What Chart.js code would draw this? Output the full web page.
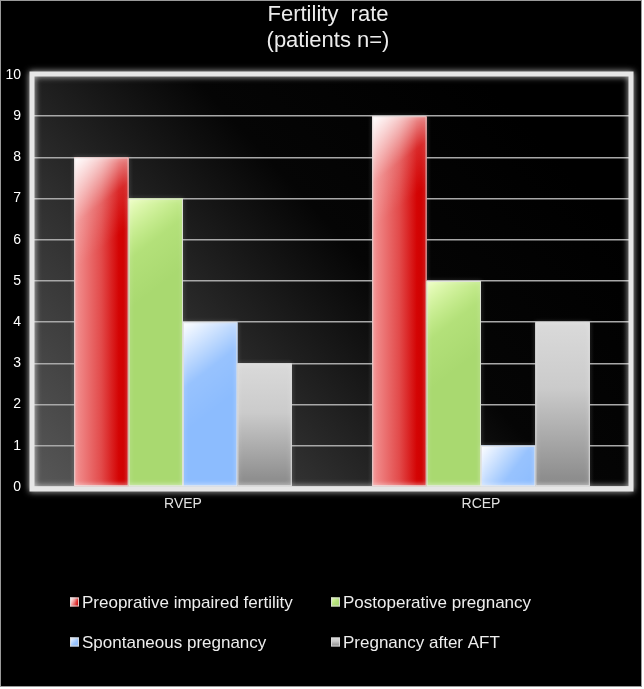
<!DOCTYPE html>
<html>
<head>
<meta charset="utf-8">
<script src="https://cdn.jsdelivr.net/npm/chart.js@4.4.1/dist/chart.umd.min.js"></script>
<style>
  html, body { margin: 0; padding: 0; background: #ffffff; }
  #wrap { position: relative; width: 644px; height: 689px; }
  canvas { display: block; }
</style>
</head>
<body>
<div id="wrap"><canvas id="c" width="644" height="689"></canvas></div>
<script>
// ---- data ----
const titleLines = ['Fertility  rate', '(patients n=)'];
const categories = ['RVEP', 'RCEP'];
const seriesNames = ['Preoprative impaired fertility', 'Postoperative pregnancy', 'Spontaneous pregnancy', 'Pregnancy after AFT'];
const preoperativeImpaired = [8, 9];
const postoperativePregnancy = [7, 5];
const spontaneousPregnancy = [4, 1];
const pregnancyAfterAFT = [3, 4];
const yTicks = [0, 1, 2, 3, 4, 5, 6, 7, 8, 9, 10];

// ---- styles ----
const FONT = '"Liberation Sans", Arial, sans-serif';
const baseColors = ['#d81818', '#a9d86e', '#8cbcff', '#b0b0b0'];
const seriesValues = [preoperativeImpaired, postoperativePregnancy, spontaneousPregnancy, pregnancyAfterAFT];

function barGradient(ctx, idx, x0, y0, w, h) {
  let g;
  if (idx === 0) {
    g = ctx.createLinearGradient(x0, 0, x0 + w, 0);
    g.addColorStop(0, '#f39494');
    g.addColorStop(0.5, '#e24a4a');
    g.addColorStop(0.82, '#d40404');
    g.addColorStop(1, '#cc0000');
  } else if (idx === 1) {
    g = '#a9d970';
  } else if (idx === 2) {
    g = '#8cbcfe';
  } else {
    g = ctx.createLinearGradient(0, y0, 0, y0 + h);
    g.addColorStop(0, '#dadada');
    g.addColorStop(0.4, '#cbcbcb');
    g.addColorStop(1, '#888888');
  }
  return g;
}
function highlight(ctx, idx, x0, y0, w, h) {
  const g = ctx.createLinearGradient(x0, y0, x0 + w, y0 + Math.min(h, 70));
  if (idx === 0) {
    g.addColorStop(0, 'rgba(255,255,255,1)');
    g.addColorStop(0.6, 'rgba(255,255,255,0.15)');
    g.addColorStop(1, 'rgba(255,255,255,0)');
  } else if (idx === 1) {
    g.addColorStop(0, 'rgba(240,255,200,1)');
    g.addColorStop(0.55, 'rgba(220,255,160,0.2)');
    g.addColorStop(1, 'rgba(220,255,160,0)');
  } else if (idx === 2) {
    g.addColorStop(0, 'rgba(255,255,255,1)');
    g.addColorStop(0.6, 'rgba(255,255,255,0.1)');
    g.addColorStop(1, 'rgba(255,255,255,0)');
  } else {
    g.addColorStop(0, 'rgba(255,255,255,0)');
    g.addColorStop(1, 'rgba(255,255,255,0)');
  }
  return g;
}

const bgPlugin = {
  id: 'bgPlugin',
  beforeDraw(chart) {
    const ctx = chart.ctx;
    const a = chart.chartArea;
    ctx.save();
    ctx.fillStyle = '#ffffff';
    ctx.fillRect(0, 0, chart.width, chart.height);
    ctx.fillStyle = '#000000';
    ctx.fillRect(0, 0, 642, 687);
    ctx.strokeStyle = '#9a9a9a';
    ctx.lineWidth = 1;
    ctx.strokeRect(0.5, 0.5, 641, 686);
    const g = ctx.createLinearGradient(a.left, a.bottom, a.left + (a.right - a.left) * 0.75, a.top);
    g.addColorStop(0, '#585858');
    g.addColorStop(0.35, '#2e2e2e');
    g.addColorStop(0.65, '#050505');
    g.addColorStop(1, '#000000');
    ctx.fillStyle = g;
    ctx.fillRect(a.left, a.top, a.right - a.left, a.bottom - a.top);
    // title
    ctx.fillStyle = '#ececec';
    ctx.font = '22px ' + FONT;
    ctx.textAlign = 'center';
    ctx.textBaseline = 'alphabetic';
    ctx.fillText(titleLines[0], 328, 21);
    ctx.fillText(titleLines[1], 328, 47);
    ctx.restore();
  },
  afterDatasetsDraw(chart) {
    const ctx = chart.ctx;
    ctx.save();
    chart.data.datasets.forEach((ds, di) => {
      const meta = chart.getDatasetMeta(di);
      meta.data.forEach((el) => {
        const p = el.getProps(['x', 'y', 'base', 'width'], true);
        const x0 = p.x - p.width / 2, y0 = p.y, w = p.width, h = p.base - p.y;
        ctx.fillStyle = barGradient(ctx, di, x0, y0, w, h);
        ctx.fillRect(x0, y0, w, h);
        ctx.fillStyle = highlight(ctx, di, x0, y0, w, h);
        ctx.fillRect(x0, y0, w, h);
        ctx.save();
        ctx.shadowColor = 'rgba(255,255,255,0.6)';
        ctx.shadowBlur = 4;
        ctx.strokeStyle = 'rgba(225,225,225,0.85)';
        ctx.lineWidth = 1;
        ctx.strokeRect(x0 + 0.5, y0 + 0.5, w - 1, h - 1);
        ctx.restore();
      });
    });
    ctx.restore();
  },
  afterDraw(chart) {
    const ctx = chart.ctx;
    const a = chart.chartArea;
    ctx.save();
    // plot frame
    ctx.shadowColor = 'rgba(255,255,255,0.8)';
    ctx.shadowBlur = 6;
    ctx.strokeStyle = '#e6e6e6';
    ctx.lineWidth = 5;
    ctx.strokeRect(a.left - 2, a.top - 1, a.right - a.left + 3, a.bottom - a.top + 3);
    ctx.restore();
    // legend
    ctx.save();
    const pos = [[70, 602], [331, 602], [70, 642], [331, 642]];
    ctx.font = '17px ' + FONT;
    ctx.textBaseline = 'middle';
    ctx.textAlign = 'left';
    chart.data.datasets.forEach((ds, i) => {
      const [bx, by] = pos[i];
      const s = 9;
      const x0 = bx, y0 = by - s / 2;
      ctx.fillStyle = barGradient(ctx, i, x0, y0, s, s);
      ctx.fillRect(x0, y0, s, s);
      ctx.fillStyle = highlight(ctx, i, x0, y0, s, s);
      ctx.fillRect(x0, y0, s, s);
      ctx.strokeStyle = 'rgba(220,220,220,0.9)';
      ctx.lineWidth = 1;
      ctx.strokeRect(x0 + 0.5, y0 + 0.5, s - 1, s - 1);
      ctx.fillStyle = '#eeeeee';
      ctx.fillText(ds.label, bx + 12, by + 1);
    });
    ctx.restore();
  }
};

const datasets = seriesNames.map((name, i) => ({
  label: name,
  data: seriesValues[i],
  backgroundColor: baseColors[i],
  borderWidth: 0,
  categoryPercentage: 0.73,
  barPercentage: 1.0
}));

new Chart(document.getElementById('c'), {
  type: 'bar',
  data: { labels: categories, datasets: datasets },
  options: {
    responsive: false,
    animation: false,
    devicePixelRatio: 1,
    layout: { padding: { left: 0, right: 14, top: 75, bottom: 0 } },
    plugins: {
      legend: { display: false },
      tooltip: { enabled: false },
      title: { display: false }
    },
    scales: {
      x: {
        grid: { display: false, drawTicks: false },
        border: { display: false },
        ticks: { color: '#e0e0e0', padding: 9, font: { family: FONT, size: 14 } },
        afterFit(scale) { scale.height = 202; }
      },
      y: {
        min: 0,
        max: 10,
        afterBuildTicks(scale) { scale.ticks = yTicks.map(v => ({ value: v })); },
        grid: { color: '#a8a8a8', lineWidth: 1.5, drawTicks: false },
        border: { display: false },
        ticks: { color: '#ffffff', padding: 13, font: { family: FONT, size: 14 } },
        afterFit(scale) { scale.width = 34; }
      }
    }
  },
  plugins: [bgPlugin]
});
</script>
</body>
</html>
